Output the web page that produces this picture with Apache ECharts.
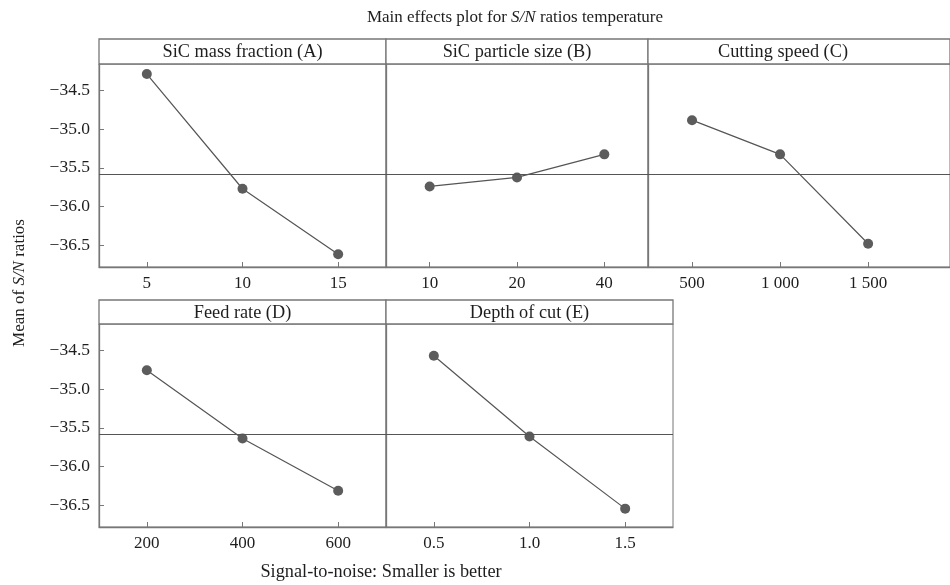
<!DOCTYPE html>
<html>
<head>
<meta charset="utf-8">
<style>
  html, body { margin: 0; padding: 0; background: #fff; }
  #chart { width: 950px; height: 585px; }
</style>
<script src="https://cdn.jsdelivr.net/npm/echarts@6.0.0/dist/echarts.min.js"></script>
</head>
<body>
<div id="chart"></div>
<script>
// ---- data ----
const panelTitles = ['SiC mass fraction (A)', 'SiC particle size (B)', 'Cutting speed (C)', 'Feed rate (D)', 'Depth of cut (E)'];
const levelsA = ['5', '10', '15'];
const levelsB = ['10', '20', '40'];
const levelsC = ['500', '1 000', '1 500'];
const levelsD = ['200', '400', '600'];
const levelsE = ['0.5', '1.0', '1.5'];
const snA = [-34.29, -35.77, -36.615];
const snB = [-35.74, -35.624, -35.326];
const snC = [-34.885, -35.326, -36.48];
const snD = [-34.758, -35.637, -36.313];
const snE = [-34.569, -35.611, -36.543];
const meanSN = -35.575;
const yTicks = [-36.5, -36.0, -35.5, -35.0, -34.5];
const chartTitle = ['Main effects plot for ', 'S/N', ' ratios temperature'];
const yName = ['Mean of ', 'S/N', ' ratios'];
const footer = 'Signal-to-noise: Smaller is better';

// ---- layout (styling only) ----
const FONT = '"Liberation Serif", "DejaVu Serif", serif';
const TXT = '#1e1e1e';
const BORDER = '#777';
const LINE = '#555';
const DOT = '#5c5c5c';
const Y_MIN = -36.78, Y_MAX = -34.16;

const panels = [
  { levels: levelsA, values: snA, left: 99,  top: 64,  width: 287, xMax: 3,    hdrTop: 39,  showY: true,  titleX: 242.5 },
  { levels: levelsB, values: snB, left: 386, top: 64,  width: 262, xMax: 3,    hdrTop: 39,  showY: false, titleX: 517 },
  { levels: levelsC, values: snC, left: 648, top: 64,  width: 302, xMax: 3.43, hdrTop: 39,  showY: false, titleX: 783 },
  { levels: levelsD, values: snD, left: 99,  top: 324, width: 287, xMax: 3,    hdrTop: 300, showY: true,  titleX: 242.5 },
  { levels: levelsE, values: snE, left: 386, top: 324, width: 287, xMax: 3,    hdrTop: 300, showY: false, titleX: 529.5 }
];
const PLOT_H = 203;

const grids = [], xAxes = [], yAxes = [], series = [], graphics = [];
const xPos = [0.5, 1.5, 2.5];

panels.forEach((p, i) => {
  grids.push({
    left: p.left, top: p.top, width: p.width, height: PLOT_H,
    show: true, borderColor: BORDER, borderWidth: 1, backgroundColor: 'transparent'
  });
  xAxes.push({
    type: 'value', gridIndex: i, min: 0, max: p.xMax,
    axisLine: { show: true, lineStyle: { color: BORDER, width: 1.3 } },
    axisTick: { show: true, inside: true, length: 5, customValues: xPos, lineStyle: { color: BORDER } },
    axisLabel: {
      show: true, customValues: xPos, margin: 8,
      fontFamily: FONT, fontSize: 17, color: TXT,
      formatter: v => p.levels[Math.round(v - 0.5)]
    },
    splitLine: { show: false }
  });
  yAxes.push({
    type: 'value', gridIndex: i, min: Y_MIN, max: Y_MAX,
    axisLine: { show: true, lineStyle: { color: BORDER, width: 1.3 } },
    axisTick: { show: p.showY, inside: true, length: 5, customValues: yTicks, lineStyle: { color: BORDER } },
    axisLabel: {
      show: p.showY, customValues: yTicks, margin: 9,
      fontFamily: FONT, fontSize: 17.5, color: TXT,
      formatter: v => v.toFixed(1).replace('-', '\u2212')
    },
    splitLine: { show: false }
  });
  series.push({
    type: 'line', xAxisIndex: i, yAxisIndex: i,
    data: p.values.map((v, k) => [xPos[k], v]),
    symbol: 'circle', symbolSize: 10,
    itemStyle: { color: DOT },
    lineStyle: { color: LINE, width: 1.2 },
    silent: true, animation: false,
    markLine: {
      silent: true, symbol: 'none', animation: false,
      label: { show: false },
      lineStyle: { color: LINE, width: 1.2, type: 'solid' },
      data: [{ yAxis: meanSN }]
    }
  });
  // header strip
  graphics.push({
    type: 'rect', silent: true,
    shape: { x: p.left, y: p.hdrTop, width: p.width, height: p.top - p.hdrTop },
    style: { fill: '#fff', stroke: BORDER, lineWidth: 1.3 }
  });
  graphics.push({
    type: 'text', silent: true,
    x: p.titleX, y: (p.hdrTop + p.top) / 2 + 1,
    style: {
      text: panelTitles[i], fontFamily: FONT, fontSize: 18.3, fill: TXT,
      align: 'center', verticalAlign: 'middle'
    }
  });
});

// chart title
graphics.push({
  type: 'text', silent: true, x: 515, y: 18,
  style: {
    text: '{n|' + chartTitle[0] + '}{i|' + chartTitle[1] + '}{n|' + chartTitle[2] + '}',
    align: 'center', verticalAlign: 'middle',
    rich: {
      n: { fontFamily: FONT, fontSize: 17, fill: TXT, color: TXT },
      i: { fontFamily: FONT, fontSize: 17, fontStyle: 'italic', fill: TXT, color: TXT }
    }
  }
});
// y name
graphics.push({
  type: 'text', silent: true, x: 20, y: 283, rotation: Math.PI / 2,
  style: {
    text: '{n|' + yName[0] + '}{i|' + yName[1] + '}{n|' + yName[2] + '}',
    align: 'center', verticalAlign: 'middle',
    rich: {
      n: { fontFamily: FONT, fontSize: 17, fill: TXT, color: TXT },
      i: { fontFamily: FONT, fontSize: 17, fontStyle: 'italic', fill: TXT, color: TXT }
    }
  }
});
// footer
graphics.push({
  type: 'text', silent: true, x: 381, y: 572,
  style: { text: footer, fontFamily: FONT, fontSize: 18.3, fill: TXT, align: 'center', verticalAlign: 'middle' }
});

const chart = echarts.init(document.getElementById('chart'), null, { renderer: 'canvas' });
chart.setOption({
  animation: false,
  backgroundColor: '#fff',
  grid: grids,
  xAxis: xAxes,
  yAxis: yAxes,
  series: series,
  graphic: graphics
});
</script>
</body>
</html>
